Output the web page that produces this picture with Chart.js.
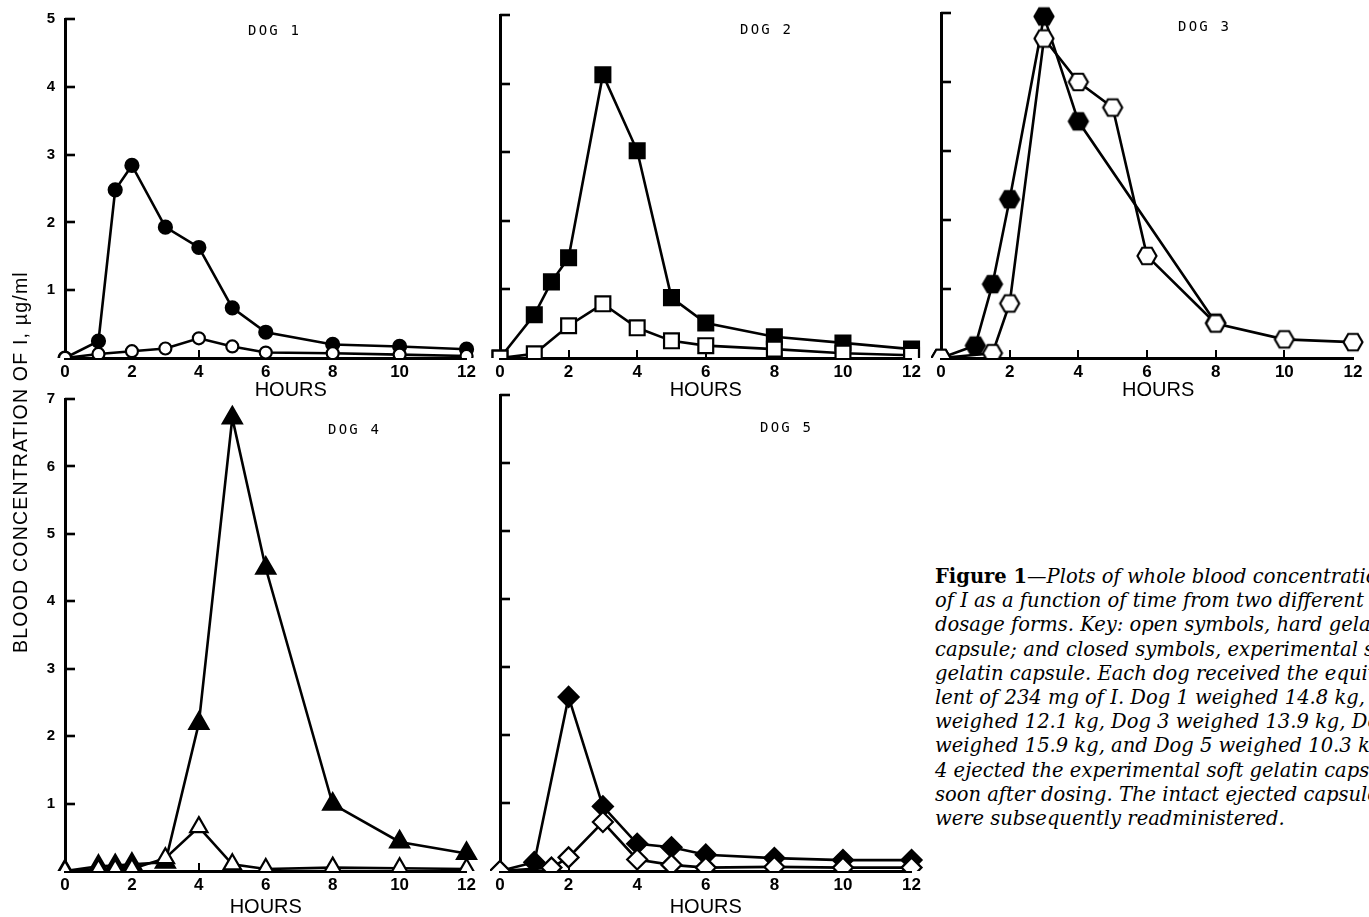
<!DOCTYPE html>
<html>
<head>
<meta charset="utf-8">
<script src="https://cdn.jsdelivr.net/npm/chart.js@4.4.1/dist/chart.umd.min.js"></script>
<style>
  html, body { margin: 0; padding: 0; background: #fff; }
  body { width: 1369px; height: 917px; overflow: hidden; position: relative; font-family: 'Liberation Sans', Arial, sans-serif; }
  canvas.pane { position: absolute; }
  .dog { position: absolute; font-family: 'DejaVu Sans Mono', monospace; font-size: 14px; letter-spacing: 2.2px; color: #000; white-space: pre; }
  .ytitle { position: absolute; width: 420px; height: 24px; line-height: 24px; text-align: center; left: -190px; top: 450px;
            transform: rotate(-90deg); font-family: 'Liberation Sans', Arial, sans-serif; font-size: 19.5px; letter-spacing: 1.2px; color: #000; white-space: nowrap; }
  .caption { position: absolute; left: 935px; top: 565px; width: 700px; font-family: 'DejaVu Serif', serif; font-style: italic; font-size: 19.5px; color: #000; }
  .caption div { height: 24.2px; line-height: 24.2px; white-space: nowrap; }
  .caption b { font-style: normal; font-weight: bold; }
</style>
</head>
<body>
<canvas class="pane" id="c1" width="480" height="400" style="left:0px;top:0px"></canvas>
<canvas class="pane" id="c2" width="445" height="400" style="left:480px;top:0px"></canvas>
<canvas class="pane" id="c3" width="448" height="400" style="left:921px;top:0px"></canvas>
<canvas class="pane" id="c4" width="480" height="537" style="left:0px;top:380px"></canvas>
<canvas class="pane" id="c5" width="445" height="537" style="left:480px;top:380px"></canvas>

<div class="dog" style="left:248px;top:22px">DOG 1</div>
<div class="dog" style="left:740px;top:21px">DOG 2</div>
<div class="dog" style="left:1178px;top:18px">DOG 3</div>
<div class="dog" style="left:328px;top:421px">DOG 4</div>
<div class="dog" style="left:760px;top:419px">DOG 5</div>

<div class="ytitle">BLOOD CONCENTRATION OF I, µg/ml</div>

<div class="caption">
  <div><b>Figure 1</b>—Plots of whole blood concentrations</div>
  <div>of I as a function of time from two different</div>
  <div>dosage forms. Key: open symbols, hard gelatin</div>
  <div>capsule; and closed symbols, experimental soft</div>
  <div>gelatin capsule. Each dog received the equiva-</div>
  <div>lent of 234 mg of I. Dog 1 weighed 14.8 kg, Dog 2</div>
  <div>weighed 12.1 kg, Dog 3 weighed 13.9 kg, Dog 4</div>
  <div>weighed 15.9 kg, and Dog 5 weighed 10.3 kg. Dog</div>
  <div>4 ejected the experimental soft gelatin capsule</div>
  <div>soon after dosing. The intact ejected capsules</div>
  <div>were subsequently readministered.</div>
</div>

<script>
// ---- Data (hours; µg/ml). null = no sample plotted ----
const hours = [0, 1, 1.5, 2, 3, 4, 5, 6, 8, 10, 12];
const xTicks = [0, 2, 4, 6, 8, 10, 12];
const yTicksTop = [1, 2, 3, 4, 5];
const yTicksBottom = [1, 2, 3, 4, 5, 6, 7];

const dog1Soft = [0, 0.25, 2.48, 2.84, 1.93, 1.63, 0.74, 0.38, 0.20, 0.17, 0.13];
const dog1Hard = [0, 0.06, null, 0.10, 0.14, 0.29, 0.17, 0.08, 0.07, 0.05, 0.03];

const dog2Soft = [0, 0.63, 1.11, 1.46, 4.13, 3.02, 0.88, 0.51, 0.31, 0.22, 0.13];
const dog2Hard = [0, 0.06, null, 0.47, 0.79, 0.44, 0.25, 0.18, 0.13, 0.07, 0.04];

const dog3Soft = [0, 0.18, 1.07, 2.30, 4.95, 3.43, null, null, 0.51, null, null];
const dog3Hard = [0, null, 0.07, 0.79, 4.63, 4.00, 3.63, 1.48, 0.50, 0.27, 0.23];

const dog4Soft = [0, 0.07, 0.08, 0.10, 0.13, 2.19, 6.72, 4.49, 0.99, 0.43, 0.26];
const dog4Hard = [0, 0.02, 0.02, 0.03, 0.19, 0.65, 0.10, 0.03, 0.05, 0.04, 0.03];

const dog5Soft = [0, 0.13, null, 2.56, 0.95, 0.40, 0.35, 0.24, 0.19, 0.16, 0.16];
const dog5Hard = [0, null, 0.05, 0.20, 0.72, 0.17, 0.09, 0.05, 0.06, 0.05, 0.05];

// ---- helpers ----
function pts(vals) {
  const out = [];
  hours.forEach((h, i) => { if (vals[i] !== null) out.push({ x: h, y: vals[i] }); });
  return out;
}

function hexImg(filled) {
  const s = 24, c = document.createElement('canvas');
  c.width = s; c.height = s;
  const g = c.getContext('2d');
  const R = 9.5;
  g.beginPath();
  for (let i = 0; i < 6; i++) {
    const a = Math.PI / 3 * i;
    const px = s / 2 + R * Math.cos(a), py = s / 2 + R * Math.sin(a);
    if (i) g.lineTo(px, py); else g.moveTo(px, py);
  }
  g.closePath();
  g.fillStyle = filled ? '#000' : '#fff';
  g.fill();
  g.lineWidth = 2.2; g.strokeStyle = '#000'; g.lineJoin = 'miter';
  g.stroke();
  return c;
}

const innerTicks = {
  id: 'innerTicks',
  beforeDatasetsDraw(chart) {
    const { ctx, chartArea: a, scales: { x, y } } = chart;
    ctx.save();
    ctx.strokeStyle = '#000';
    ctx.lineCap = 'butt';
    ctx.lineWidth = 2.6;
    y.ticks.forEach(t => {
      if (t.value === 0) return;
      const py = Math.round(y.getPixelForValue(t.value));
      ctx.beginPath(); ctx.moveTo(a.left, py); ctx.lineTo(a.left + 10, py); ctx.stroke();
    });
    ctx.lineWidth = 2;
    x.ticks.forEach(t => {
      if (t.value === 0 || t.value === 12) return;
      const px = Math.round(x.getPixelForValue(t.value));
      ctx.beginPath(); ctx.moveTo(px, a.bottom); ctx.lineTo(px, a.bottom - 8); ctx.stroke();
    });
    ctx.restore();
  }
};

function ds(data, style, radius, filled, order) {
  return {
    data: pts(data),
    borderColor: '#000',
    borderWidth: 2.6,
    pointStyle: style,
    pointRadius: radius,
    pointHoverRadius: radius,
    pointBorderWidth: 2.2,
    pointBorderColor: '#000',
    pointBackgroundColor: filled ? '#000' : '#fff',
    fill: false,
    tension: 0,
    spanGaps: true,
    order: order,
    clip: { left: 10, top: 20, right: 20, bottom: 0 }
  };
}

function makeChart(id, cfg) {
  const yVals = cfg.yTicks;
  return new Chart(document.getElementById(id), {
    type: 'line',
    data: { datasets: cfg.datasets },
    options: {
      responsive: false,
      animation: false,
      events: [],
      layout: { padding: { top: cfg.padTop, right: cfg.padRight, left: 0, bottom: 0 } },
      plugins: { legend: { display: false }, tooltip: { enabled: false } },
      scales: {
        x: {
          type: 'linear', min: 0, max: 12,
          afterBuildTicks: s => { s.ticks = xTicks.map(v => ({ value: v })); },
          afterFit: s => { s.height = cfg.xh; },
          grid: { display: false, drawTicks: false },
          border: { display: true, color: '#000', width: 3 },
          ticks: { color: '#000', padding: 4, maxRotation: 0, autoSkip: false,
                   font: { family: "'Liberation Sans', Arial, sans-serif", size: 17, weight: 'bold' } },
          title: { display: true, text: cfg.xTitle, color: '#000', padding: 0,
                   font: { family: "'Liberation Sans', Arial, sans-serif", size: 20, lineHeight: 1 } }
        },
        y: {
          type: 'linear', min: 0, max: cfg.yMax,
          afterBuildTicks: s => { s.ticks = [0].concat(yVals).map(v => ({ value: v })); },
          afterFit: s => { s.width = cfg.yw; },
          grid: { display: false, drawTicks: false },
          border: { display: true, color: '#000', width: 3 },
          ticks: { display: cfg.showY, color: '#000', padding: 10,
                   callback: v => (v === 0 ? '' : String(v)),
                   font: { family: "'Liberation Sans', Arial, sans-serif", size: 15, weight: 'bold' } }
        }
      }
    },
    plugins: [innerTicks]
  });
}

const hexFilled = hexImg(true), hexOpen = hexImg(false);

makeChart('c1', { yMax: 5, yTicks: yTicksTop, showY: true, yw: 65, xh: 42, padTop: 16, padRight: 12,
  xTitle: '         HOURS',
  datasets: [ds(dog1Hard, 'circle', 6, false, 1), ds(dog1Soft, 'circle', 6.5, true, 2)] });

makeChart('c2', { yMax: 5, yTicks: yTicksTop, showY: false, yw: 20, xh: 42, padTop: 15, padRight: 12,
  xTitle: 'HOURS',
  datasets: [ds(dog2Hard, 'rect', 10.5, false, 1), ds(dog2Soft, 'rect', 10.5, true, 2)] });

makeChart('c3', { yMax: 5, yTicks: yTicksTop, showY: false, yw: 20, xh: 42, padTop: 13, padRight: 16,
  xTitle: '    HOURS',
  datasets: [ds(dog3Hard, hexOpen, 9, false, 1), ds(dog3Soft, hexFilled, 9, true, 2)] });

makeChart('c4', { yMax: 7, yTicks: yTicksBottom, showY: true, yw: 65, xh: 46, padTop: 14, padRight: 12,
  xTitle: 'HOURS',
  datasets: [ds(dog4Hard, 'triangle', 10, false, 1), ds(dog4Soft, 'triangle', 11, true, 2)] });

makeChart('c5', { yMax: 7, yTicks: yTicksBottom, showY: false, yw: 20, xh: 46, padTop: 15, padRight: 12,
  xTitle: 'HOURS',
  datasets: [ds(dog5Hard, 'rectRot', 10, false, 1), ds(dog5Soft, 'rectRot', 10, true, 2)] });
</script>
</body>
</html>
